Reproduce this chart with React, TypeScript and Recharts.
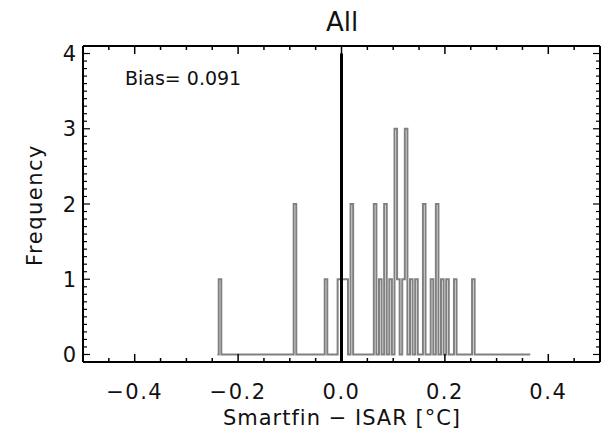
import React from 'react';
import { LineChart, Line, XAxis, YAxis, ReferenceLine } from 'recharts';

// ---- data ----
const binWidth = 0.005;
const binRangeStart = -0.24;
const binRangeEnd = 0.365;
const binCenters = [
  -0.235, -0.09, -0.03, -0.005, 0, 0.005, 0.01, 0.02, 0.065, 0.075, 0.085, 0.095,
  0.105, 0.11, 0.12, 0.125, 0.135, 0.145, 0.16, 0.175, 0.185, 0.195, 0.205, 0.22, 0.255,
];
const binCounts = [
  1, 2, 1, 1, 1, 1, 1, 2, 2, 1, 2, 1,
  3, 1, 1, 3, 1, 1, 2, 1, 2, 1, 1, 1, 1,
];
const zeroLineTop = 4;

const titleText = 'All';
const xTitle = 'Smartfin \u2212 ISAR [\u00B0C]';
const yTitle = 'Frequency';
const biasText = 'Bias= 0.091';

const xDomain: [number, number] = [-0.5, 0.5];
const yDomain: [number, number] = [-0.1, 4.1];
const xMajorTicks = [-0.4, -0.2, 0, 0.2, 0.4];
const xTickLabels = ['\u22120.4', '\u22120.2', '0.0', '0.2', '0.4'];
const xMinorTicks = [-0.45, -0.35, -0.3, -0.25, -0.15, -0.1, -0.05, 0.05, 0.1, 0.15, 0.25, 0.3, 0.35, 0.45];
const yMajorTicks = [0, 1, 2, 3, 4];
const yTickLabels = ['0', '1', '2', '3', '4'];
const yMinorPerUnit = 10;

// ---- derived tables ----
const countByIndex = new Map<number, number>();
binCenters.forEach((c, i) => countByIndex.set(Math.round(c / binWidth), binCounts[i]));
const histData: { x: number; count: number }[] = [];
for (let k = Math.round(binRangeStart / binWidth); k <= Math.round(binRangeEnd / binWidth); k++) {
  histData.push({ x: +(k * binWidth).toFixed(4), count: countByIndex.get(k) ?? 0 });
}

const xAllTicks = [...xMinorTicks, ...xMajorTicks].sort((a, b) => a - b);
const yMinorTicks: number[] = [];
for (let i = 0; i < yMajorTicks.length - 1; i++) {
  for (let j = 1; j < yMinorPerUnit; j++) {
    yMinorTicks.push(+(yMajorTicks[i] + j / yMinorPerUnit).toFixed(3));
  }
}
const yAllTicks = [...yMinorTicks, ...yMajorTicks].sort((a, b) => a - b);

const majorIndex = (list: number[], v: number) => list.findIndex((m) => Math.abs(m - v) < 1e-6);

const FONT = 'DejaVu Sans';
const TEXT = '#111';
const TICK_STROKE = '#000';

const BottomTick = (props: any) => {
  const { x, y, payload } = props;
  const idx = majorIndex(xMajorTicks, payload.value);
  const major = idx >= 0;
  return (
    <g>
      <line x1={x} x2={x} y1={y} y2={y - (major ? 8 : 4)} stroke={TICK_STROKE} strokeWidth={1.5} />
      {major && (
        <text x={x} y={y + 37} textAnchor="middle" fontFamily={FONT} fontSize={21} fill={TEXT} letterSpacing={1.5}>
          {xTickLabels[idx]}
        </text>
      )}
    </g>
  );
};

const TopTick = (props: any) => {
  const { x, y, payload } = props;
  const major = majorIndex(xMajorTicks, payload.value) >= 0;
  return <line x1={x} x2={x} y1={y} y2={y + (major ? 8 : 4)} stroke={TICK_STROKE} strokeWidth={1.5} />;
};

const LeftTick = (props: any) => {
  const { x, y, payload } = props;
  const idx = majorIndex(yMajorTicks, payload.value);
  const major = idx >= 0;
  return (
    <g>
      <line x1={x} x2={x + (major ? 7 : 4)} y1={y} y2={y} stroke={TICK_STROKE} strokeWidth={1.2} />
      {major && (
        <text x={x - 7} y={y + 7.5} textAnchor="end" fontFamily={FONT} fontSize={21} fill={TEXT}>
          {yTickLabels[idx]}
        </text>
      )}
    </g>
  );
};

const RightTick = (props: any) => {
  const { x, y, payload } = props;
  const major = majorIndex(yMajorTicks, payload.value) >= 0;
  return <line x1={x} x2={x - (major ? 7 : 4)} y1={y} y2={y} stroke={TICK_STROKE} strokeWidth={1.2} />;
};

const frameLine = { stroke: '#000', strokeWidth: 2 };

export default function App() {
  return (
    <div style={{ position: 'absolute', left: 0, top: 0, width: 607, height: 435, background: '#fff' }}>
      <LineChart width={607} height={435} data={histData} margin={{ top: 40, right: 0, bottom: 13, left: 23 }}>
        <XAxis
          xAxisId="bottom"
          dataKey="x"
          type="number"
          domain={xDomain}
          allowDataOverflow
          ticks={xAllTicks}
          interval={0}
          tickSize={0}
          tickMargin={0}
          tickLine={false}
          axisLine={frameLine}
          tick={(p: any) => <BottomTick {...p} />}
          height={60}
        />
        <XAxis
          xAxisId="top"
          orientation="top"
          dataKey="x"
          type="number"
          domain={xDomain}
          allowDataOverflow
          ticks={xAllTicks}
          interval={0}
          tickSize={0}
          tickMargin={0}
          tickLine={false}
          axisLine={frameLine}
          tick={(p: any) => <TopTick {...p} />}
          height={6}
        />
        <YAxis
          yAxisId="left"
          type="number"
          domain={yDomain}
          allowDataOverflow
          ticks={yAllTicks}
          interval={0}
          tickSize={0}
          tickMargin={0}
          tickLine={false}
          axisLine={frameLine}
          tick={(p: any) => <LeftTick {...p} />}
          width={60}
        />
        <YAxis
          yAxisId="right"
          orientation="right"
          type="number"
          domain={yDomain}
          allowDataOverflow
          ticks={yAllTicks}
          interval={0}
          tickSize={0}
          tickMargin={0}
          tickLine={false}
          axisLine={frameLine}
          tick={(p: any) => <RightTick {...p} />}
          width={7}
        />
        <Line
          xAxisId="top"
          yAxisId="right"
          dataKey="count"
          stroke="none"
          dot={false}
          activeDot={false}
          isAnimationActive={false}
        />
        <Line
          xAxisId="bottom"
          yAxisId="left"
          type="step"
          dataKey="count"
          stroke="#808080"
          strokeWidth={2}
          dot={false}
          activeDot={false}
          isAnimationActive={false}
        />
        <ReferenceLine
          xAxisId="bottom"
          yAxisId="left"
          segment={[{ x: 0, y: yDomain[0] }, { x: 0, y: zeroLineTop }]}
          stroke="#000"
          strokeWidth={3}
        />
      </LineChart>
      <svg
        width={607}
        height={435}
        style={{ position: 'absolute', left: 0, top: 0, pointerEvents: 'none' }}
      >
        <text x={342} y={31} textAnchor="middle" fontFamily={FONT} fontSize={26} fill={TEXT}>
          {titleText}
        </text>
        <text x={342} y={425} textAnchor="middle" fontFamily={FONT} fontSize={21} fill={TEXT} letterSpacing={1}>
          {xTitle}
        </text>
        <text
          x={42}
          y={205}
          textAnchor="middle"
          fontFamily={FONT}
          fontSize={21}
          fill={TEXT}
          letterSpacing={1.5}
          transform="rotate(-90 42 205)"
        >
          {yTitle}
        </text>
        <text x={125} y={85} fontFamily={FONT} fontSize={19} fill={TEXT}>
          {biasText}
        </text>
      </svg>
    </div>
  );
}
